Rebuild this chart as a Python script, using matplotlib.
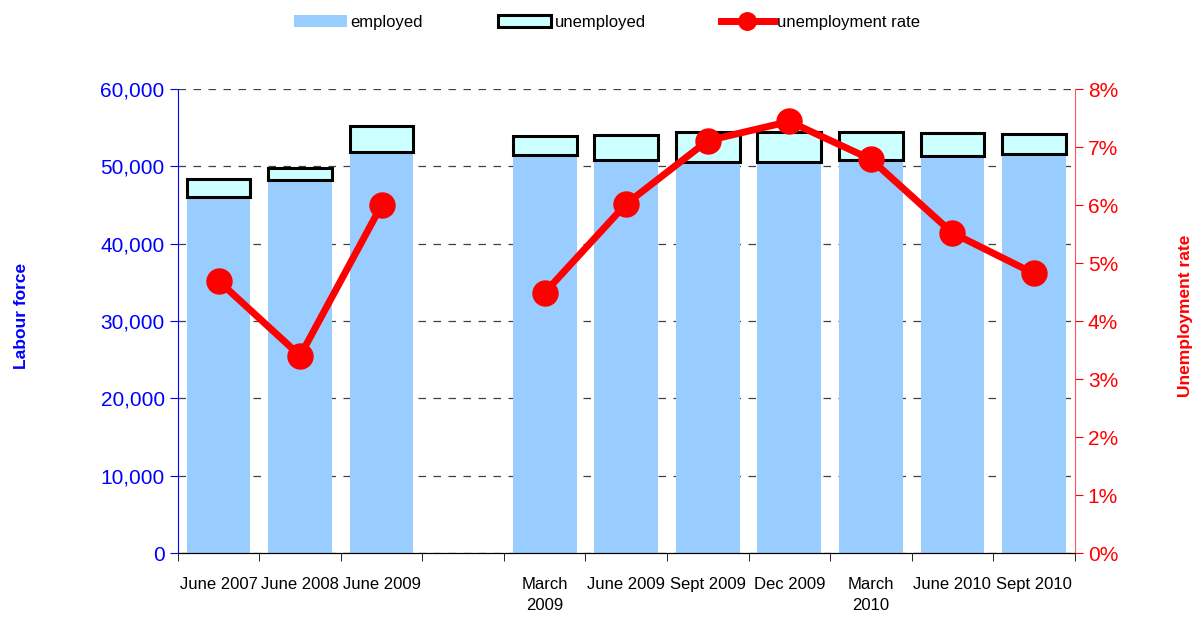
import numpy as np
import matplotlib.pyplot as plt
from matplotlib.ticker import FuncFormatter, MultipleLocator

# data (index 3 is the empty gap)
labels = ['June 2007', 'June 2008', 'June 2009', '', 'March\n2009', 'June 2009',
          'Sept 2009', 'Dec 2009', 'March\n2010', 'June 2010', 'Sept 2010']
employed = [46000, 48200, 51900, np.nan, 51500, 50800, 50600, 50500, 50800, 51400, 51600]
total = [48300, 49800, 55200, np.nan, 53950, 54100, 54400, 54500, 54500, 54300, 54200]
rate = [4.69, 3.40, 6.00, np.nan, 4.49, 6.02, 7.11, 7.44, 6.79, 5.52, 4.82]

unemployed = [t - e for t, e in zip(total, employed)]
x = np.arange(len(labels))
font = ['Liberation Sans', 'DejaVu Sans']
plt.rcParams['font.family'] = font

fig = plt.figure(figsize=(12.02, 6.19), dpi=100)
ax = fig.add_axes([0.148, 0.1066, 0.746, 0.7496])
ax2 = ax.twinx()

b1 = ax.bar(x, employed, width=0.78, color='#99ccff', zorder=2, label='employed')
b2 = ax.bar(x, unemployed, width=0.78, bottom=employed, color='#ccffff',
            edgecolor='black', linewidth=2.2, zorder=2, label='unemployed')

# line: draw the two segments separately because of the gap
r = np.array(rate)
ln, = ax2.plot(x[:3], r[:3], color='red', lw=5, marker='o', ms=18,
               label='unemployment rate', zorder=3)
ax2.plot(x[4:], r[4:], color='red', lw=5, marker='o', ms=18, zorder=3)

ax.set_xlim(-0.5, 10.5)
ax.set_ylim(0, 60000)
ax2.set_ylim(0, 8)
ax.yaxis.set_major_locator(MultipleLocator(10000))
ax.yaxis.set_major_formatter(FuncFormatter(lambda v, p: f'{v:,.0f}'))
ax2.yaxis.set_major_locator(MultipleLocator(1))
ax2.yaxis.set_major_formatter(FuncFormatter(lambda v, p: f'{v:.0f}%'))

ax.grid(axis='y', linestyle=(0, (6, 6)), color='#404040', lw=0.9, zorder=1)
ax.set_axisbelow(True)

ax.set_xticks(x)
ax.set_xticklabels(labels, fontsize=12, linespacing=1.55)
ax.tick_params(axis='x', which='major', length=0, pad=17)
ax.set_xticks(np.arange(-0.5, 11, 1), minor=True)
ax.tick_params(axis='x', which='minor', length=6, color='black')

ax.tick_params(axis='y', colors='blue', labelsize=15, length=6)
ax2.tick_params(axis='y', colors='red', labelsize=15, length=6)
for t in ax.get_yticklabels():
    t.set_color('blue')
for t in ax2.get_yticklabels():
    t.set_color('red')

ax.spines['top'].set_visible(False)
ax2.spines['top'].set_visible(False)
ax.spines['left'].set_color('blue')
ax2.spines['left'].set_visible(False)
ax2.spines['right'].set_color('#ff5555')
ax.spines['right'].set_visible(False)
ax.spines['bottom'].set_color('black')

fig.text(0.018, 0.49, 'Labour force', rotation=90, color='blue', fontsize=12.5,
         fontweight='bold', ha='center', va='center')
fig.text(0.986, 0.49, 'Unemployment rate', rotation=90, color='red', fontsize=12.5,
         fontweight='bold', ha='center', va='center')

fig.legend([b1, b2, ln], ['employed', 'unemployed', 'unemployment rate'],
           loc='center', bbox_to_anchor=(0.505, 0.964), ncol=3, frameon=False,
           fontsize=12, handlelength=3.2, markerscale=0.7,
           handletextpad=0.2, columnspacing=4.5)

fig.savefig('out.png', dpi=100)
